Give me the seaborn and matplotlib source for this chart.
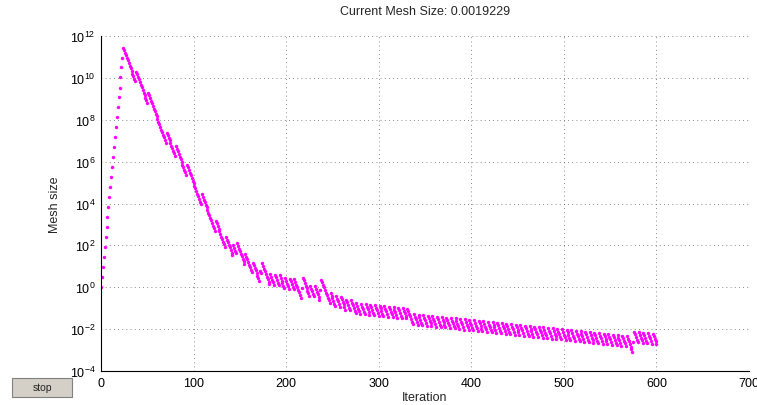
import numpy as np
import pandas as pd
import matplotlib
matplotlib.use("Agg")
import matplotlib.pyplot as plt
import seaborn as sns
from matplotlib.patches import Rectangle
from matplotlib.ticker import MultipleLocator, NullLocator

# log10(mesh size) per iteration
log_mesh_ramp = [
    0.00, 0.48, 0.95, 1.43, 1.91, 2.39, 2.86, 3.34, 3.82, 4.29, 4.77, 5.25, 5.73,
    6.20, 6.68, 7.16, 7.63, 8.11, 8.59, 9.07, 9.54, 10.02, 10.50, 10.97, 11.45,
]

log_mesh_descent = [
    11.33, 11.20, 11.08, 10.95, 10.83, 10.70, 10.58, 10.45, 10.33, 10.20, 10.08, 9.95, 9.83,
    10.30, 10.18, 10.05, 9.93, 9.80, 9.68, 9.55, 9.43, 9.30, 9.18, 9.05, 8.93, 8.80,
    9.28, 9.16, 9.03, 8.91, 8.78, 8.66, 8.53, 8.41, 8.28, 8.16, 8.03, 7.91, 7.78, 7.66,
    7.53, 7.41, 7.28, 7.16, 7.03, 6.91,
    7.38, 7.26, 7.13, 7.01, 6.89, 6.76, 6.64, 6.51, 6.39, 6.26,
    6.74, 6.61, 6.49, 6.36, 6.24, 6.11, 5.99, 5.86, 5.74, 5.61, 5.49, 5.36,
    5.84, 5.72, 5.59, 5.47, 5.34, 5.22, 5.09, 4.97, 4.84, 4.72, 4.59, 4.47, 4.34, 4.22,
    4.09, 3.97,
    4.44, 4.32, 4.19, 4.07, 3.94, 3.82, 3.69, 3.57, 3.44, 3.32, 3.19, 3.07, 2.94, 2.82, 2.69,
    3.17, 3.05, 2.92, 2.80, 2.67, 2.55, 2.42, 2.30, 2.17, 2.05, 1.92,
    2.40, 2.27, 2.15, 2.02, 1.90, 1.77, 1.65, 1.52,
    2.00, 1.88, 1.75, 1.63,
    2.10, 1.98, 1.85, 1.73, 1.60, 1.48, 1.35, 1.23, 1.10,
    1.58, 1.46, 1.33, 1.21, 1.08, 0.96, 0.83, 0.71,
    1.18, 1.06, 0.93, 0.81, 0.68, 0.56, 0.43, 0.31,
    0.79, 0.66,
    1.14, 1.01, 0.89, 0.76, 0.64, 0.51, 0.39, 0.26, 0.14,
    0.62, 0.49, 0.37, 0.24, 0.12,
    0.59, 0.47, 0.34, 0.22, 0.09,
    0.57, 0.45, 0.32, 0.20, 0.07, -0.05,
    0.42, 0.30, 0.17, 0.05, -0.08,
    0.40, 0.28, 0.15, 0.03, -0.10,
    0.38, 0.25, 0.13, 0.00, -0.12, -0.25, -0.37, -0.50,
    -0.02,
    0.46, 0.33, 0.21, 0.08, -0.04, -0.17, -0.29, -0.42,
    0.06, -0.06, -0.19, -0.31, -0.44,
    0.04, -0.09, -0.21, -0.34, -0.46, -0.59,
    -0.11,
    0.37, 0.24, 0.12, -0.01, -0.13, -0.26, -0.38, -0.51, -0.63, -0.76,
    -0.28, -0.40, -0.53, -0.65, -0.78, -0.90,
    -0.43, -0.55, -0.68, -0.80, -0.93,
    -0.45, -0.57, -0.70, -0.82, -0.95, -1.07,
    -0.60, -0.72, -0.85, -0.97, -1.10,
    -0.62, -0.75, -0.87, -1.00, -1.12, -1.24,
    -0.77, -0.89, -1.02, -1.14, -1.27,
    -0.79, -0.92, -1.04, -1.17, -1.29,
    -0.81, -0.94, -1.06, -1.19, -1.31,
    -0.84, -0.96, -1.09, -1.21, -1.34,
    -0.86, -0.98, -1.11, -1.23, -1.36,
    -0.88, -1.01, -1.13, -1.26, -1.38,
    -0.90, -1.03, -1.15, -1.28, -1.40,
    -0.93, -1.05, -1.18, -1.30, -1.43,
    -0.95, -1.07, -1.20, -1.32, -1.45,
    -0.97, -1.10, -1.22, -1.35, -1.47,
    -0.99, -1.12, -1.24, -1.37, -1.49,
    -1.02, -1.14, -1.27, -1.39, -1.52, -1.64, -1.77,
]

log_mesh_tail = [
    -1.29, -1.41, -1.54, -1.66, -1.79,
    -1.31, -1.44, -1.56, -1.69, -1.81,
    -1.33, -1.46, -1.58, -1.71, -1.83,
    -1.36, -1.48, -1.61, -1.73, -1.86,
    -1.38, -1.50, -1.63, -1.75, -1.88,
    -1.40, -1.53, -1.65, -1.78, -1.90,
    -1.43, -1.55, -1.67, -1.80, -1.92,
    -1.45, -1.57, -1.70, -1.82, -1.95,
    -1.47, -1.60, -1.72, -1.85, -1.97,
    -1.49, -1.62, -1.74, -1.87, -1.99,
    -1.52, -1.64, -1.77, -1.89, -2.02,
    -1.54, -1.66, -1.79, -1.91, -2.04,
    -1.56, -1.69, -1.81, -1.94, -2.06,
    -1.58, -1.71, -1.83, -1.96, -2.08,
    -1.61, -1.73, -1.86, -1.98, -2.11,
    -1.63, -1.75, -1.88, -2.00, -2.13,
    -1.65, -1.78, -1.90, -2.03, -2.15,
    -1.67, -1.80, -1.92, -2.05, -2.17,
    -1.70, -1.82, -1.95, -2.07, -2.20,
    -1.72, -1.84, -1.97, -2.09, -2.22,
    -1.74, -1.87, -1.99, -2.12, -2.24,
    -1.76, -1.89, -2.01, -2.14, -2.26,
    -1.79, -1.91, -2.04, -2.16, -2.29,
    -1.81, -1.93, -2.06, -2.18, -2.31,
    -1.83, -1.96, -2.08, -2.21, -2.33,
    -1.86, -1.98, -2.11, -2.23, -2.36,
    -1.88, -2.00, -2.13, -2.25, -2.38,
    -1.90, -2.03, -2.15, -2.28, -2.40,
    -1.92, -2.05, -2.17, -2.30, -2.42,
    -1.95, -2.07, -2.20, -2.32, -2.45,
    -1.97, -2.09, -2.22, -2.34, -2.47,
    -1.99, -2.12, -2.24, -2.37, -2.49,
    -2.01, -2.14, -2.26, -2.39, -2.51,
    -2.04, -2.16, -2.29, -2.41, -2.54,
    -2.06, -2.18, -2.31, -2.43, -2.56,
    -2.08, -2.21, -2.33, -2.46, -2.58,
    -2.10, -2.23, -2.35, -2.48, -2.60,
    -2.13, -2.25, -2.38, -2.50, -2.63,
    -2.15, -2.27, -2.40, -2.52, -2.65,
    -2.17, -2.30, -2.42, -2.55, -2.67,
    -2.19, -2.32, -2.44, -2.57, -2.69,
    -2.22, -2.34, -2.47, -2.59, -2.72,
    -2.24, -2.36, -2.49, -2.61, -2.74,
    -2.26, -2.39, -2.51, -2.64, -2.76,
    -2.29, -2.41, -2.54, -2.66, -2.79,
    -2.31, -2.43, -2.56, -2.68, -2.81,
    -2.33, -2.46, -2.58, -2.71, -2.83, -2.96, -3.08,
    -2.60,
    -2.13, -2.25, -2.38, -2.50, -2.62,
    -2.15, -2.27, -2.40, -2.52, -2.65,
    -2.17, -2.30, -2.42, -2.55, -2.67,
    -2.19, -2.32, -2.44, -2.57, -2.69,
    -2.22, -2.34, -2.47, -2.59, -2.72,
]

title_text = "Current Mesh Size: 0.0019229"
x_ticks = [0, 100, 200, 300, 400, 500, 600, 700]
y_tick_exponents = [-4, -2, 0, 2, 4, 6, 8, 10, 12]


def main():
    log_mesh = np.array(log_mesh_ramp + log_mesh_descent + log_mesh_tail)
    df = pd.DataFrame({
        "iteration": np.arange(len(log_mesh)),
        "mesh_size": 10.0 ** log_mesh,
    })

    sns.set_style("white")
    plt.rcParams["font.family"] = ["Liberation Sans", "DejaVu Sans"]
    plt.rcParams["mathtext.fontset"] = "custom"
    plt.rcParams["mathtext.rm"] = "Liberation Sans"
    plt.rcParams["mathtext.it"] = "Liberation Sans:italic"

    W, H = 757, 406
    fig = plt.figure(figsize=(W / 100, H / 100), dpi=100)
    fig.patch.set_facecolor("white")
    ax = fig.add_axes([101 / W, 1 - 372 / H, 648 / W, 335 / H])

    ax.set_yscale("log")
    sns.scatterplot(
        data=df,
        x="iteration",
        y="mesh_size",
        color="#ff00ff",
        s=6,
        linewidth=0,
        marker="o",
        legend=False,
        ax=ax,
    )

    ax.set_xlim(0, 700)
    ax.set_ylim(1e-4, 1e12)
    ax.set_xticks(x_ticks)
    ax.xaxis.set_minor_locator(MultipleLocator(10))
    ax.set_yticks([10.0 ** e for e in y_tick_exponents])
    ax.yaxis.set_minor_locator(NullLocator())

    ax.tick_params(axis="both", which="major", direction="in", length=5,
                   width=0.7, labelsize=9, pad=4, colors="black")
    ax.tick_params(axis="x", which="minor", direction="in", length=2.5, width=0.5)

    for side in ["top", "right"]:
        ax.spines[side].set_visible(False)
    for side in ["left", "bottom"]:
        ax.spines[side].set_color("black")
        ax.spines[side].set_linewidth(0.8)

    ax.grid(True, which="major", linestyle=(0, (1, 4)), linewidth=0.6, color="#666666")
    ax.set_axisbelow(True)

    ax.set_xlabel("Iteration", fontsize=9, labelpad=2)
    ax.set_ylabel("Mesh size", fontsize=9, labelpad=6)
    fig.text(425 / W, 1 - 12 / H, title_text, ha="center", va="center", fontsize=9)

    # the "stop" button of the plot window
    fig.patches.append(Rectangle((12 / W, 1 - 398 / H), 60 / W, 19 / H,
                                 transform=fig.transFigure, facecolor="#d4d0c8",
                                 edgecolor="#808080", linewidth=0.8))
    fig.text(42 / W, 1 - 388.5 / H, "stop", ha="center", va="center", fontsize=7.5)

    fig.savefig("out.png", dpi=100)
    plt.close(fig)


if __name__ == "__main__":
    main()
